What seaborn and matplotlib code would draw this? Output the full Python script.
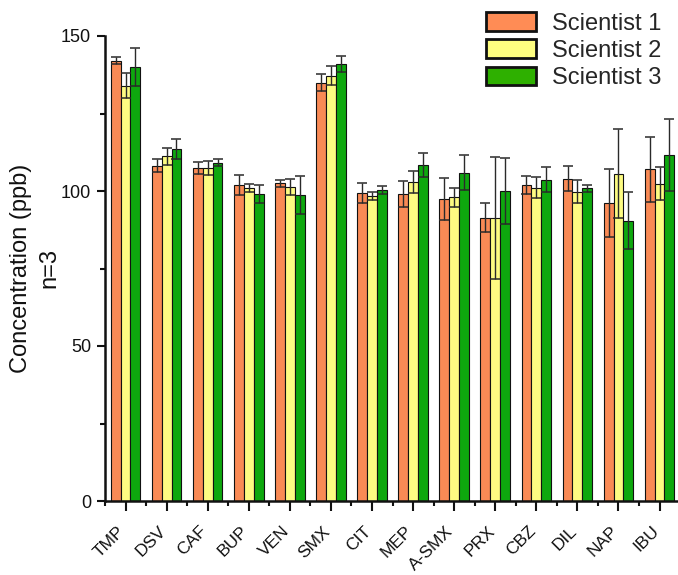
import numpy as np
import pandas as pd
import matplotlib
matplotlib.use("Agg")
import matplotlib.pyplot as plt
import matplotlib.transforms as mtransforms
from matplotlib.patches import Patch
from matplotlib.ticker import FixedLocator
import seaborn as sns

compounds = ["TMP", "DSV", "CAF", "BUP", "VEN", "SMX", "CIT", "MEP", "A-SMX",
             "PRX", "CBZ", "DIL", "NAP", "IBU"]
scientists = ["Scientist 1", "Scientist 2", "Scientist 3"]

s1_mean = [142.0, 108.2, 107.5, 101.9, 102.5, 135.0, 99.3, 99.0, 97.4, 91.4, 102.0, 104.0, 96.1, 107.0]
s1_sd = [1.1, 2.0, 1.9, 3.2, 1.2, 2.8, 3.3, 4.3, 6.7, 4.6, 3.0, 4.0, 11.0, 10.5]
s2_mean = [134.0, 111.2, 107.4, 101.0, 101.3, 137.2, 98.4, 102.8, 98.0, 91.3, 101.1, 99.8, 105.6, 102.4]
s2_sd = [4.1, 2.8, 2.3, 1.4, 2.6, 3.1, 1.2, 3.6, 3.0, 19.6, 3.3, 3.8, 14.4, 5.3]
s3_mean = [140.0, 113.5, 109.1, 99.0, 98.7, 141.1, 100.3, 108.3, 105.9, 100.0, 103.7, 100.9, 90.4, 111.6]
s3_sd = [6.0, 3.2, 1.1, 3.0, 6.1, 2.6, 1.4, 3.9, 5.6, 10.6, 3.9, 1.1, 9.2, 11.5]

y_ticks = [0, 50, 100, 150]
y_minor = [25, 75, 125]

bar_colors = ["#F98A55", "#FDFB82", "#0EA80E"]
legend_colors = ["#FF8C55", "#FFFF80", "#2EB000"]

means = [s1_mean, s2_mean, s3_mean]
sds = [s1_sd, s2_sd, s3_sd]
df = pd.DataFrame({
    "compound": compounds * 3,
    "scientist": [s for s in scientists for _ in compounds],
    "mean": s1_mean + s2_mean + s3_mean,
})

sns.set_style("ticks")
plt.rcParams["font.family"] = ["Liberation Sans", "DejaVu Sans"]

W, H = 678, 575
fig = plt.figure(figsize=(W / 100, H / 100), dpi=100)
ax = fig.add_axes([105 / W, 1 - 501 / H, (W - 105) / W, 465 / H])

sns.barplot(data=df, x="compound", y="mean", hue="scientist", order=compounds,
            hue_order=scientists, palette=bar_colors, width=0.72, errorbar=None,
            edgecolor="#111111", linewidth=0.8, saturation=1, legend=False, ax=ax)

for cont, sd in zip(ax.containers, sds):
    xs = [b.get_x() + b.get_width() / 2 for b in cont]
    ys = [b.get_height() for b in cont]
    ax.errorbar(xs, ys, yerr=sd, fmt="none", ecolor="#2a2a2a", elinewidth=1.0,
                capsize=3.3, capthick=1.1, zorder=5)

ax.set_ylim(0, 150)
ax.set_xlim(-0.5, 13.45)
ax.set_yticks(y_ticks)
ax.yaxis.set_minor_locator(FixedLocator(y_minor))
ax.xaxis.set_minor_locator(FixedLocator(np.arange(len(compounds) + 1) - 0.5))

for s in ["top", "right"]:
    ax.spines[s].set_visible(False)
for s in ["left", "bottom"]:
    ax.spines[s].set_linewidth(1.8)
    ax.spines[s].set_color("#111111")

ax.tick_params(axis="y", which="major", length=6, width=1.5, labelsize=13, pad=4, colors="#111111")
ax.tick_params(axis="y", which="minor", length=3.5, width=1.5, colors="#111111")
ax.tick_params(axis="x", which="major", length=7, width=1.5, labelsize=12.5, pad=13, colors="#111111")
ax.tick_params(axis="x", which="minor", length=3.5, width=1.5, colors="#111111")

offset = mtransforms.ScaledTranslation(-3 / 100, 0, fig.dpi_scale_trans)
for lab in ax.get_xticklabels():
    lab.set_rotation(45)
    lab.set_rotation_mode("anchor")
    lab.set_ha("right")
    lab.set_va("center")
    lab.set_transform(lab.get_transform() + offset)

ax.set_xlabel("")
ax.set_ylabel("Concentration (ppb)\nn=3", fontsize=17, multialignment="center",
              linespacing=1.4, labelpad=0, color="#111111")

handles = [Patch(facecolor=c, edgecolor="#111111", linewidth=2) for c in legend_colors]
fig.legend(handles, scientists, loc="upper left", bbox_to_anchor=(486 / W, 1 - 12 / H),
           frameon=False, fontsize=17, handlelength=2.1, handleheight=0.85,
           handletextpad=0.7, labelspacing=0.2, borderpad=0, borderaxespad=0)

fig.savefig("out.png", dpi=100)
